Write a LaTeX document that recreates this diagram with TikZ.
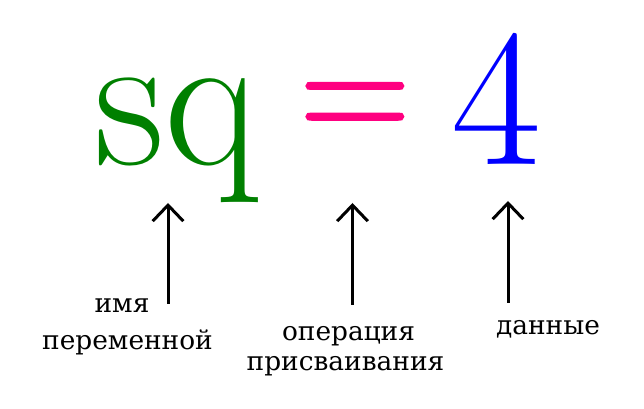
\documentclass[tikz,border=0pt]{standalone}
\usepackage{fontspec}
\usepackage{graphicx}
\newfontfamily\dserif{DejaVu Serif}
\newfontfamily\lmeq{Latin Modern Roman}[FakeBold=1.2]
\usetikzlibrary{arrows.meta}
\definecolor{vargreen}{HTML}{008000}
\definecolor{oppink}{HTML}{FF0080}
\definecolor{datblue}{HTML}{0000FF}
\tikzset{
  big/.style={inner sep=0pt, anchor=base west, font=\rmfamily\fontsize{147}{150}\selectfont},
  eqsign/.style={inner sep=0pt, anchor=base west, font=\lmeq\fontsize{116}{120}\selectfont},
  lbl/.style={inner sep=0pt, anchor=base, font=\dserif\fontsize{19.8}{24}\selectfont},
  pointer/.style={line width=2.25pt, -{Straight Barb[length=12pt,width=23pt,line width=2.25pt]}}
}
\begin{document}
\begin{tikzpicture}[x=0.75pt,y=-0.75pt]
\useasboundingbox (0,0) rectangle (644,409);
\node[big, text=vargreen] (var) at (94,165) {sq};
\node[eqsign, text=oppink] (op) at (299,144.5) {\scalebox{1}[1.12]{=}};
\node[big, text=datblue] (dat) at (451,165) {4};
\node[lbl] (l1a) at (122,313) {имя};
\node[lbl] (l1b) at (127.5,350) {переменной};
\node[lbl] (l2a) at (348.5,341) {операция};
\node[lbl] (l2b) at (345.5,371) {присваивания};
\node[lbl] (l3) at (548,335) {данные};
\coordinate (a1s) at (168,304);
\coordinate (a1e) at (168,203);
\coordinate (a2s) at (352.5,305);
\coordinate (a2e) at (352.5,203);
\coordinate (a3s) at (508,303);
\coordinate (a3e) at (508,201);
\draw[pointer] (a1s) -- (a1e);
\draw[pointer] (a2s) -- (a2e);
\draw[pointer] (a3s) -- (a3e);
\end{tikzpicture}
\end{document}
